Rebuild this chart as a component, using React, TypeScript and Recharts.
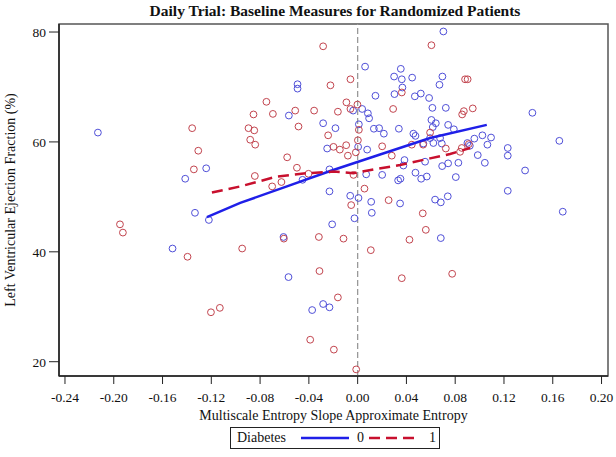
import { ScatterChart, Scatter, XAxis, YAxis, ReferenceLine, ReferenceArea } from "recharts";

// Multiscale entropy slope vs LVEF, group 0 (no diabetes)
const group0: [number, number][] = [
  [-0.213, 61.7], [-0.1242, 55.2], [-0.1414, 53.3], [0.0061, 73.7], [-0.0493, 70.5],
  [-0.0493, 69.7], [-0.0564, 64.8], [0.0037, 66.0], [-0.0037, 65.7], [0.0084, 65.2],
  [0.0094, 64.3], [0.0146, 68.4], [0.0299, 71.9], [0.0354, 73.3], [0.0362, 71.4],
  [0.0367, 69.9], [0.0302, 68.7], [0.0447, 71.7], [0.0469, 68.3], [0.0518, 68.8],
  [0.0586, 68.0], [-0.0283, 63.4], [-0.0182, 62.5], [0.001, 63.2], [0.0133, 62.4],
  [0.0176, 62.5], [0.0215, 61.5], [0.0338, 62.4], [0.0457, 61.5], [0.0474, 61.1],
  [-0.025, 58.8], [0.0004, 59.1], [0.0078, 58.6], [0.0539, 59.7], [0.0384, 56.7],
  [0.0375, 55.7], [0.0553, 56.4], [-0.0452, 53.1], [-0.0231, 55.0], [0.007, 54.1],
  [0.0201, 54.0], [0.0332, 53.0], [0.0351, 53.3], [0.0474, 54.4], [0.0521, 53.3],
  [-0.0231, 51.0], [-0.0061, 50.2], [0.0007, 49.8], [0.0703, 80.1], [0.0695, 71.9],
  [0.0671, 70.4], [0.0613, 66.2], [0.0723, 66.2], [0.1433, 65.3], [0.0605, 64.0],
  [0.0641, 63.4], [0.0616, 62.7], [0.0742, 63.1], [0.0789, 62.3], [0.0594, 60.7],
  [0.0676, 60.7], [0.0621, 59.8], [0.069, 59.7], [0.09, 59.8], [0.092, 59.3],
  [0.0957, 60.6], [0.1023, 61.2], [0.1094, 60.8], [0.1064, 59.5], [0.0985, 57.6],
  [0.1043, 56.2], [0.1231, 58.9], [0.1231, 57.5], [0.1654, 60.2], [0.0826, 56.2],
  [0.0742, 56.1], [0.0693, 55.6], [0.0567, 53.7], [0.0805, 53.6], [0.1373, 54.8],
  [0.1231, 51.1], [0.0739, 50.1], [0.0635, 49.5], [0.0682, 49.0], [0.1682, 47.3],
  [0.0682, 42.5], [0.0111, 49.1], [0.0348, 48.8], [0.0116, 47.1], [-0.0026, 46.1],
  [-0.0209, 45.0], [-0.0608, 42.7], [-0.0567, 35.4], [-0.0283, 30.5], [-0.0231, 29.9],
  [-0.0373, 29.4], [-0.1334, 47.1], [-0.122, 45.8], [-0.1518, 40.6],
];

// group 1 (diabetes)
const group1: [number, number][] = [
  [-0.1357, 62.5], [-0.1307, 58.4], [-0.1343, 55.0], [-0.0895, 62.5], [-0.0848, 62.1],
  [-0.0881, 60.4], [-0.084, 59.5], [-0.0283, 77.4], [-0.0059, 71.4], [-0.0223, 70.3],
  [-0.0748, 67.3], [-0.0854, 65.0], [-0.0695, 65.1], [-0.0512, 65.7], [-0.0357, 65.7],
  [-0.0162, 65.5], [-0.0092, 67.2], [-0.0059, 66.0], [-0.0002, 66.8], [0.0362, 69.0],
  [0.0291, 66.0], [-0.0485, 62.8], [0.001, 62.2], [-0.0242, 61.2], [0.0002, 60.3],
  [0.0594, 61.7], [-0.0198, 59.1], [-0.0146, 58.6], [-0.0094, 59.4], [-0.008, 57.5],
  [-0.0015, 58.1], [0.0201, 59.2], [0.028, 57.5], [0.0444, 59.5], [0.0537, 59.5],
  [-0.0578, 57.2], [-0.0498, 55.3], [-0.0843, 53.8], [-0.0403, 54.2], [-0.0034, 54.0],
  [-0.0625, 52.7], [-0.0701, 51.9], [0.0056, 51.5], [0.0254, 49.4], [0.0605, 77.6],
  [0.0881, 71.4], [0.0902, 71.4], [0.0871, 65.6], [0.0857, 65.0], [0.0944, 66.1],
  [0.0723, 58.8], [0.0912, 59.6], [0.0854, 58.9], [0.084, 58.2], [0.0534, 47.0],
  [0.0559, 44.0], [0.0775, 36.0], [-0.0053, 48.5], [-0.0605, 42.4], [-0.0318, 42.7],
  [-0.0116, 42.4], [0.0425, 42.2], [0.0108, 40.3], [-0.0947, 40.6], [-0.0313, 36.5],
  [0.0362, 35.2], [-0.0162, 31.7], [-0.0389, 24.0], [-0.0195, 22.2], [-0.0012, 18.6],
  [-0.1949, 45.0], [-0.1925, 43.5], [-0.1395, 39.1], [-0.1203, 29.0], [-0.113, 29.8],
];

// smoothed fits
const fit0: [number, number][] = [
  [-0.1236, 46.3], [-0.0963, 48.9], [-0.058, 51.9], [-0.0225, 54.7],
  [0.0184, 57.7], [0.0594, 60.7], [0.1059, 63.1],
];
const fit1: [number, number][] = [
  [-0.1195, 50.8], [-0.0963, 51.9], [-0.0662, 53.7], [-0.0416, 54.3], [-0.0198, 54.6],
  [-0.0034, 54.3], [0.013, 55.0], [0.0348, 55.8], [0.0594, 57.0], [0.0758, 57.8], [0.0922, 58.9],
];

const xTicks = [-0.24, -0.2, -0.16, -0.12, -0.08, -0.04, 0, 0.04, 0.08, 0.12, 0.16, 0.2];
const yTicks = [20, 40, 60, 80];

const X_MIN = -0.2449;
const X_MAX = 0.2053;
const Y_MIN = 17.4;
const Y_MAX = 81.46;

const BLUE_PT = "#4f4fd8";
const RED_PT = "#c2444e";
const BLUE_LINE = "#1f1fe8";
const RED_LINE = "#c8102e";
const SERIF = '"Liberation Serif", "Times New Roman", serif';

const toPts = (arr: [number, number][]) => arr.map(([x, y]) => ({ x, y }));

const ring = (color: string) => (props: any) => (
  <circle cx={props.cx} cy={props.cy} r={3.4} fill="none" stroke={color} strokeWidth={1} />
);
const noDot = () => <g />;

export default function App() {
  return (
    <div style={{ position: "absolute", left: 0, top: 0, width: 616, height: 457, background: "#fff", fontFamily: SERIF }}>
      <div
        style={{
          position: "absolute",
          left: 0,
          top: 2,
          width: 670,
          textAlign: "center",
          fontWeight: "bold",
          fontSize: 15.5,
          color: "#111",
        }}
      >
        Daily Trial: Baseline Measures for Randomized Patients
      </div>
      <ScatterChart width={616} height={457} margin={{ top: 24, right: 8, bottom: 51, left: 0 }}>
        <XAxis
          type="number"
          dataKey="x"
          domain={[X_MIN, X_MAX]}
          ticks={xTicks}
          allowDataOverflow
          tickFormatter={(v: number) => v.toFixed(2)}
          height={30}
          tickSize={8}
          tickMargin={8}
          tick={{ fontSize: 13.5, fill: "#111", fontFamily: SERIF }}
          axisLine={{ stroke: "#222", strokeWidth: 1.5 }}
          tickLine={{ stroke: "#222" }}
          label={{
            value: "Multiscale Entropy Slope Approximate Entropy",
            position: "bottom",
            offset: 4,
            style: { fontSize: 14, fill: "#111", fontFamily: SERIF },
          }}
        />
        <YAxis
          type="number"
          dataKey="y"
          domain={[Y_MIN, Y_MAX]}
          ticks={yTicks}
          allowDataOverflow
          width={59}
          tickSize={10}
          tickMargin={3}
          tick={{ fontSize: 13.5, fill: "#111", fontFamily: SERIF }}
          axisLine={{ stroke: "#222", strokeWidth: 1.5 }}
          tickLine={{ stroke: "#222" }}
          label={{
            value: "Left Ventricular Ejection Fraction (%)",
            angle: -90,
            position: "insideLeft",
            offset: 10,
            style: { fontSize: 14, fill: "#111", fontFamily: SERIF, textAnchor: "middle" },
          }}
        />
        <ReferenceArea x1={X_MIN} x2={X_MAX} y1={Y_MIN} y2={Y_MAX} fill="none" stroke="#555" strokeWidth={1.5} />
        <ReferenceLine x={0} stroke="#999" strokeWidth={1.3} strokeDasharray="6 3" />
        <Scatter data={toPts(group0)} shape={ring(BLUE_PT)} isAnimationActive={false} />
        <Scatter data={toPts(group1)} shape={ring(RED_PT)} isAnimationActive={false} />
        <Scatter
          data={toPts(fit0)}
          line={{ stroke: BLUE_LINE, strokeWidth: 2.5 }}
          shape={noDot}
          isAnimationActive={false}
        />
        <Scatter
          data={toPts(fit1)}
          line={{ stroke: RED_LINE, strokeWidth: 2.5, strokeDasharray: "11 6" }}
          shape={noDot}
          isAnimationActive={false}
        />
      </ScatterChart>
      <div
        style={{
          position: "absolute",
          left: 230,
          top: 427,
          width: 208,
          height: 20,
          border: "1px solid #222",
          display: "flex",
          alignItems: "center",
          fontSize: 14,
          color: "#111",
        }}
      >
        <span style={{ marginLeft: 6, width: 62 }}>Diabetes</span>
        <svg width={52} height={10}>
          <line x1={2} y1={5} x2={50} y2={5} stroke={BLUE_LINE} strokeWidth={2.5} />
        </svg>
        <span style={{ marginLeft: 6, width: 12 }}>0</span>
        <svg width={50} height={10}>
          <line x1={0} y1={5} x2={48} y2={5} stroke={RED_LINE} strokeWidth={2.5} strokeDasharray="11 6" />
        </svg>
        <span style={{ marginLeft: 10 }}>1</span>
      </div>
    </div>
  );
}
